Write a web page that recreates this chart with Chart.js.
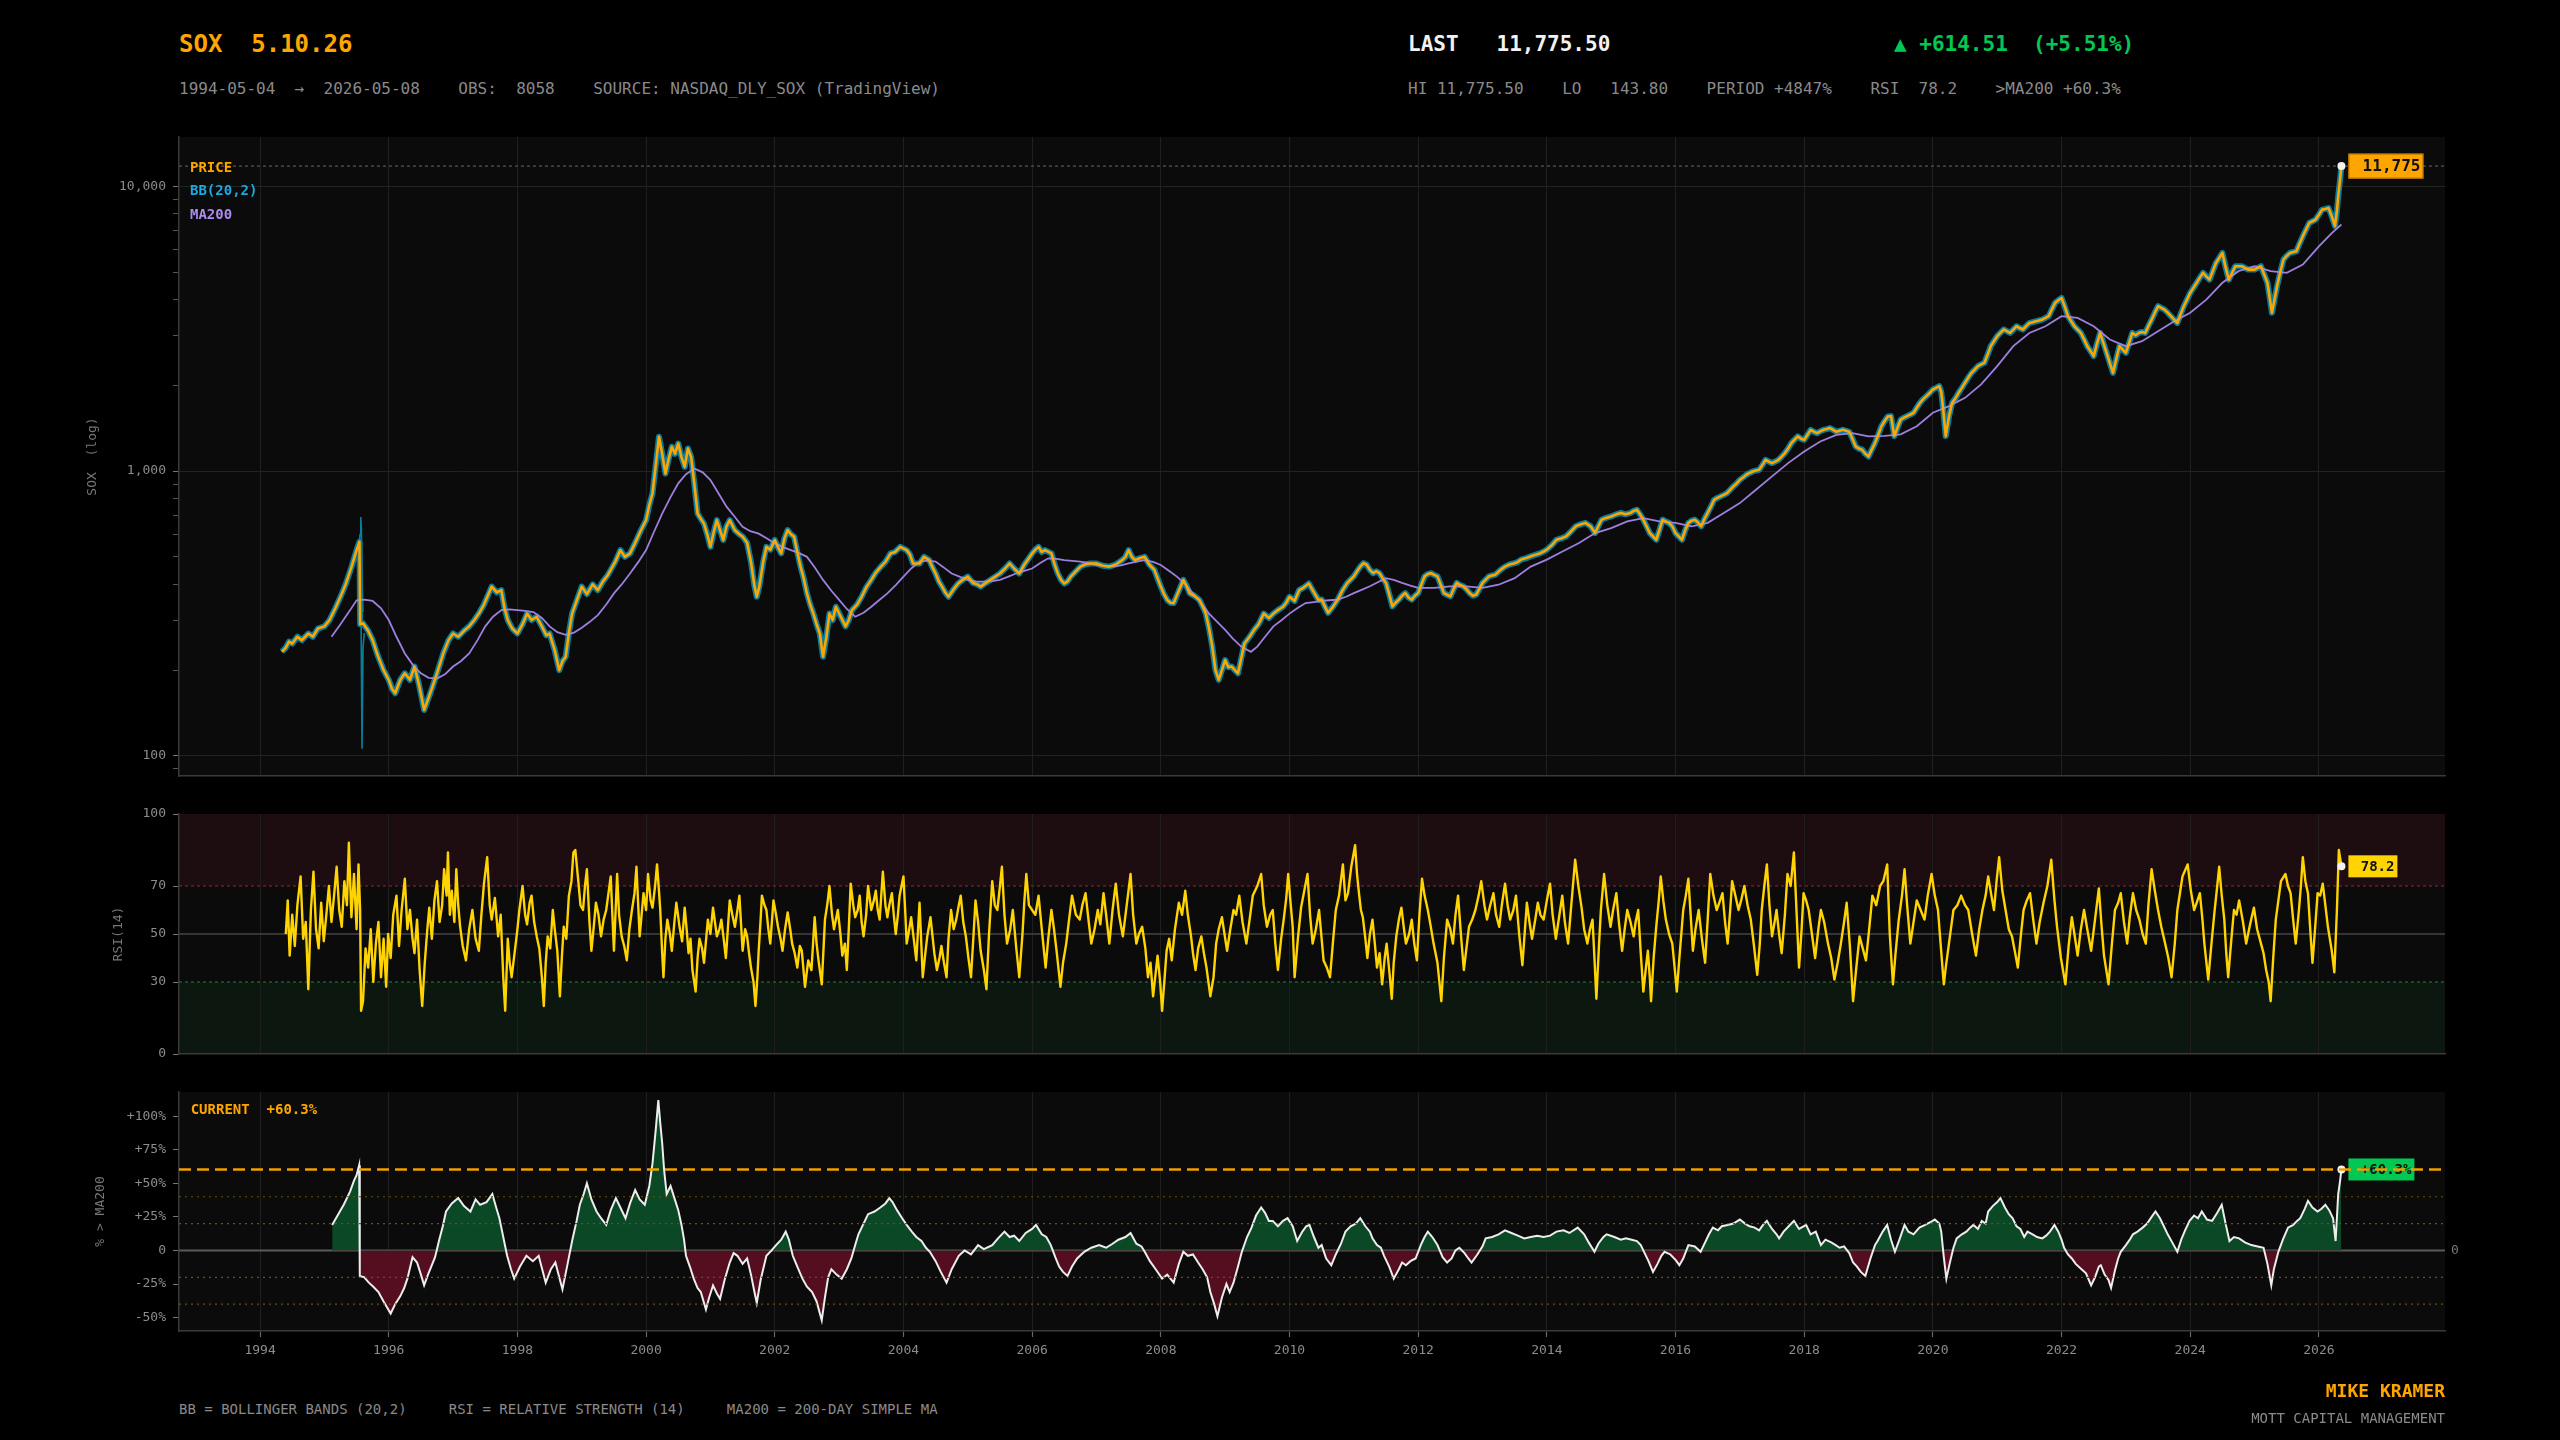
<!DOCTYPE html>
<html><head><meta charset="utf-8">
<script src="https://cdn.jsdelivr.net/npm/chart.js@4.4.1/dist/chart.umd.min.js"></script>
<style>
html,body{margin:0;padding:0;background:#000;}
#wrap{position:relative;width:2560px;height:1440px;background:#000;overflow:hidden;font-family:'DejaVu Sans Mono',monospace;}
.t{position:absolute;white-space:pre;line-height:1;}
.cv{position:absolute;left:0;}
</style></head><body>
<div id="wrap">
  <div class="t" style="left:179px;top:31.7px;font-size:24px;font-weight:bold;color:#FFA500">SOX  5.10.26</div>
  <div class="t" style="left:179px;top:80.5px;font-size:16px;color:#8a8a8a">1994-05-04  →  2026-05-08    OBS:  8058    SOURCE: NASDAQ_DLY_SOX (TradingView)</div>
  <div class="t" style="left:1408px;top:34.2px;font-size:21px;font-weight:bold;color:#f2f2f2">LAST   11,775.50</div>
  <div class="t" style="left:1894px;top:34.2px;font-size:21px;font-weight:bold;color:#00C853">▲ +614.51  (+5.51%)</div>
  <div class="t" style="left:1408px;top:80.5px;font-size:16px;color:#8a8a8a">HI 11,775.50    LO   143.80    PERIOD +4847%    RSI  78.2    >MA200 +60.3%</div>

  <canvas class="cv" id="cMain" width="2560" height="660" style="top:127px"></canvas>
  <canvas class="cv" id="cRsi" width="2560" height="261" style="top:804px"></canvas>
  <canvas class="cv" id="cPct" width="2560" height="300" style="top:1082px"></canvas>

  <div class="t" style="left:190px;top:159.9px;font-size:14px;font-weight:bold;color:#FFA500">PRICE</div>
  <div class="t" style="left:190px;top:182.7px;font-size:14px;font-weight:bold;color:#1CA8E0">BB(20,2)</div>
  <div class="t" style="left:190px;top:206.5px;font-size:14px;font-weight:bold;color:#A98CF0">MA200</div>
  <div class="t" style="left:190.7px;top:1102.2px;font-size:14px;font-weight:bold;color:#FFA500">CURRENT  +60.3%</div>

  <div class="t" style="left:179px;top:1402.2px;font-size:14px;color:#8a8a8a">BB = BOLLINGER BANDS (20,2)     RSI = RELATIVE STRENGTH (14)     MA200 = 200-DAY SIMPLE MA</div>
  <div class="t" style="right:115px;top:1382.3px;font-size:18px;font-weight:bold;color:#FFA500">MIKE KRAMER</div>
  <div class="t" style="right:115px;top:1410.7px;font-size:14px;color:#8a8a8a">MOTT CAPITAL MANAGEMENT</div>
</div>
<script>
// ---------------- DATA ----------------
const yearTicks = [1994,1996,1998,2000,2002,2004,2006,2008,2010,2012,2014,2016,2018,2020,2022,2024,2026];
const priceMajorTicks = [100, 1000, 10000];
const priceMinorTicks = [90,200,300,400,500,600,700,800,900,2000,3000,4000,5000,6000,7000,8000,9000];
const rsiTicks = [0, 30, 50, 70, 100];
const pctTicks = [-50, -25, 0, 25, 50, 75, 100];
const pctGuides = [-40, -20, 20, 40];
const rsiOverbought = 70, rsiOversold = 30, rsiMid = 50;
const lastDate = 2026.35, lastPrice = 11775.5, lastRsi = 78.2, lastPct = 60.3;

// SOX close, [decimal year, value]
const priceSeries = [
[1994.34,232],[1994.40,240],[1994.45,252],[1994.50,248],[1994.58,262],[1994.65,255],[1994.75,269],[1994.82,262],[1994.90,280],[1995.00,285],
[1995.08,300],[1995.17,330],[1995.25,362],[1995.33,400],[1995.42,460],[1995.50,528],[1995.545,565],[1995.555,290],[1995.60,292],[1995.68,275],[1995.75,255],[1995.83,225],[1995.92,200],
[1996.00,185],[1996.05,172],[1996.10,166],[1996.18,185],[1996.25,195],[1996.33,185],[1996.40,206],[1996.47,178],[1996.55,145],[1996.62,160],[1996.68,175],[1996.75,195],[1996.85,230],[1996.93,255],
[1997.00,269],[1997.08,262],[1997.17,275],[1997.25,285],[1997.33,300],[1997.40,316],[1997.48,340],[1997.55,370],[1997.60,393],[1997.68,375],[1997.75,382],[1997.80,330],[1997.85,300],[1997.92,280],
[1998.00,269],[1998.08,290],[1998.15,316],[1998.22,300],[1998.30,308],[1998.38,285],[1998.45,265],[1998.50,269],[1998.58,235],[1998.65,200],[1998.70,215],[1998.75,223],[1998.80,270],[1998.85,316],[1998.92,350],
[1999.00,393],[1999.08,370],[1999.17,400],[1999.25,382],[1999.33,410],[1999.40,430],[1999.45,450],[1999.52,480],[1999.60,528],[1999.67,500],[1999.75,514],[1999.83,560],[1999.92,620],
[2000.00,673],[2000.05,760],[2000.10,836],[2000.15,1050],[2000.20,1320],[2000.25,1150],[2000.30,980],[2000.35,1100],[2000.40,1217],[2000.45,1150],[2000.50,1250],[2000.55,1120],[2000.60,1035],[2000.65,1200],[2000.70,1122],[2000.75,900],[2000.80,710],[2000.85,680],[2000.90,654],[2000.95,600],
[2001.00,542],[2001.05,610],[2001.10,673],[2001.15,620],[2001.20,573],[2001.25,640],[2001.30,673],[2001.38,620],[2001.45,600],[2001.50,589],[2001.57,560],[2001.63,480],[2001.68,400],[2001.72,362],[2001.76,393],[2001.82,480],[2001.87,542],[2001.93,530],
[2002.00,573],[2002.05,540],[2002.10,514],[2002.15,580],[2002.20,621],[2002.25,600],[2002.30,589],[2002.35,520],[2002.40,462],[2002.45,420],[2002.50,372],[2002.55,340],[2002.60,316],[2002.65,290],[2002.70,269],[2002.75,223],[2002.80,260],[2002.85,316],[2002.90,300],[2002.95,334],
[2003.02,310],[2003.10,285],[2003.15,300],[2003.20,325],[2003.28,340],[2003.35,362],[2003.42,390],[2003.50,415],[2003.57,440],[2003.65,462],[2003.72,480],[2003.80,514],[2003.87,520],[2003.95,542],
[2004.05,528],[2004.10,510],[2004.15,474],[2004.25,474],[2004.32,500],[2004.40,487],[2004.45,460],[2004.50,437],[2004.55,410],[2004.60,393],[2004.65,375],[2004.70,362],[2004.78,385],[2004.85,403],[2004.92,415],
[2005.00,426],[2005.08,405],[2005.15,400],[2005.20,393],[2005.28,405],[2005.35,415],[2005.42,425],[2005.50,437],[2005.58,455],[2005.65,474],[2005.72,455],[2005.80,437],[2005.88,470],
[2006.00,514],[2006.05,530],[2006.10,542],[2006.15,520],[2006.20,528],[2006.30,514],[2006.35,470],[2006.40,437],[2006.45,415],[2006.50,403],[2006.55,410],[2006.60,426],[2006.68,445],[2006.75,462],[2006.82,470],[2006.90,474],
[2007.00,474],[2007.10,465],[2007.20,462],[2007.30,470],[2007.40,487],[2007.45,500],[2007.50,528],[2007.55,500],[2007.60,487],[2007.68,495],[2007.75,500],[2007.82,470],[2007.90,450],[2007.95,420],
[2008.00,393],[2008.05,370],[2008.10,353],[2008.15,345],[2008.20,344],[2008.28,380],[2008.35,415],[2008.40,395],[2008.45,372],[2008.52,365],[2008.60,353],[2008.65,335],[2008.70,316],[2008.75,280],[2008.80,242],[2008.85,200],[2008.90,185],[2008.95,200],
[2009.00,217],[2009.05,205],[2009.10,206],[2009.15,200],[2009.20,195],[2009.25,220],[2009.30,248],[2009.38,262],[2009.45,277],[2009.52,290],[2009.60,316],[2009.68,305],[2009.75,316],[2009.82,325],[2009.90,334],[2009.95,345],
[2010.00,362],[2010.08,350],[2010.15,382],[2010.22,390],[2010.30,403],[2010.38,375],[2010.45,353],[2010.50,354],[2010.55,335],[2010.60,318],[2010.68,335],[2010.75,354],[2010.82,380],[2010.90,405],
[2011.00,427],[2011.05,445],[2011.10,462],[2011.15,475],[2011.20,469],[2011.25,450],[2011.30,438],[2011.35,445],[2011.40,438],[2011.45,420],[2011.50,405],[2011.55,370],[2011.60,335],[2011.65,345],[2011.70,354],[2011.75,365],[2011.80,373],[2011.85,360],[2011.90,354],[2011.95,365],
[2012.00,373],[2012.05,400],[2012.10,427],[2012.15,435],[2012.20,438],[2012.25,432],[2012.30,427],[2012.35,400],[2012.40,373],[2012.45,368],[2012.50,363],[2012.55,385],[2012.60,405],[2012.65,398],[2012.70,394],[2012.75,385],[2012.80,373],[2012.85,365],[2012.90,368],[2012.95,385],
[2013.00,405],[2013.10,427],[2013.20,433],[2013.28,450],[2013.35,462],[2013.42,470],[2013.50,475],[2013.55,480],[2013.60,489],[2013.68,495],[2013.75,502],[2013.82,508],[2013.90,515],[2013.95,522],
[2014.00,530],[2014.08,550],[2014.15,574],[2014.22,580],[2014.30,590],[2014.38,615],[2014.45,640],[2014.52,650],[2014.60,658],[2014.68,640],[2014.75,606],[2014.80,640],[2014.85,675],[2014.92,685],
[2015.00,693],[2015.08,705],[2015.15,713],[2015.22,705],[2015.30,713],[2015.35,725],[2015.40,732],[2015.45,705],[2015.50,675],[2015.55,640],[2015.60,606],[2015.65,590],[2015.70,574],[2015.75,620],[2015.80,675],[2015.85,665],[2015.90,658],[2015.95,640],
[2016.00,606],[2016.05,590],[2016.10,574],[2016.15,620],[2016.20,658],[2016.25,670],[2016.30,675],[2016.35,660],[2016.40,640],[2016.45,680],[2016.50,713],[2016.55,750],[2016.60,793],[2016.65,805],[2016.70,815],[2016.75,825],[2016.80,837],[2016.85,860],[2016.90,884],[2016.95,905],
[2017.00,932],[2017.05,950],[2017.10,971],[2017.15,985],[2017.20,997],[2017.25,1005],[2017.30,1011],[2017.35,1050],[2017.40,1096],[2017.45,1080],[2017.50,1067],[2017.55,1080],[2017.60,1096],[2017.65,1125],[2017.70,1157],[2017.75,1200],[2017.80,1254],[2017.85,1290],[2017.90,1324],[2017.95,1300],
[2018.00,1288],[2018.05,1340],[2018.10,1396],[2018.15,1375],[2018.20,1359],[2018.25,1380],[2018.30,1396],[2018.35,1405],[2018.40,1416],[2018.45,1395],[2018.50,1374],[2018.55,1385],[2018.60,1396],[2018.65,1385],[2018.70,1374],[2018.75,1300],[2018.80,1221],[2018.85,1200],[2018.90,1189],[2018.95,1150],
[2019.00,1125],[2019.05,1190],[2019.10,1254],[2019.15,1340],[2019.20,1436],[2019.25,1500],[2019.30,1556],[2019.35,1560],[2019.40,1327],[2019.45,1420],[2019.50,1517],[2019.55,1540],[2019.60,1560],[2019.65,1580],[2019.70,1603],[2019.75,1670],[2019.80,1738],[2019.85,1790],[2019.90,1834],[2019.95,1880],
[2020.00,1935],[2020.05,1960],[2020.10,1988],[2020.13,1900],[2020.16,1650],[2020.20,1327],[2020.25,1550],[2020.30,1738],[2020.35,1800],[2020.40,1884],[2020.45,1960],[2020.50,2043],[2020.55,2130],[2020.60,2213],[2020.65,2270],[2020.70,2336],[2020.75,2370],[2020.80,2399],[2020.85,2560],[2020.90,2746],[2020.95,2860],
[2021.00,2977],[2021.05,3060],[2021.10,3142],[2021.15,3100],[2021.20,3056],[2021.25,3140],[2021.30,3226],[2021.35,3180],[2021.40,3142],[2021.45,3230],[2021.50,3311],[2021.55,3335],[2021.60,3358],[2021.65,3380],[2021.70,3405],[2021.75,3450],[2021.80,3500],[2021.85,3700],[2021.90,3897],[2021.95,3980],
[2022.00,4056],[2022.05,3780],[2022.10,3500],[2022.15,3360],[2022.20,3226],[2022.25,3140],[2022.30,3056],[2022.35,2900],[2022.40,2746],[2022.45,2640],[2022.50,2535],[2022.55,2800],[2022.60,3056],[2022.65,2820],[2022.70,2601],[2022.75,2400],[2022.80,2213],[2022.85,2470],[2022.90,2746],[2022.95,2670],
[2023.00,2601],[2023.05,2820],[2023.10,3056],[2023.15,3000],[2023.20,3056],[2023.25,3080],[2023.30,3056],[2023.35,3230],[2023.40,3405],[2023.45,3600],[2023.50,3793],[2023.55,3740],[2023.60,3690],[2023.65,3600],[2023.70,3500],[2023.75,3400],[2023.80,3311],[2023.85,3550],[2023.90,3793],[2023.95,4000],
[2024.00,4227],[2024.05,4400],[2024.10,4584],[2024.15,4780],[2024.20,4970],[2024.25,4830],[2024.30,4703],[2024.35,5030],[2024.40,5383],[2024.45,5600],[2024.50,5838],[2024.55,5200],[2024.60,4703],[2024.65,4960],[2024.70,5240],[2024.75,5240],[2024.80,5240],[2024.85,5170],[2024.90,5101],[2024.95,5101],
[2025.00,5101],[2025.05,5170],[2025.10,5240],[2025.15,4900],[2025.20,4584],[2025.24,4000],[2025.27,3597],[2025.31,4000],[2025.35,4460],[2025.40,5000],[2025.45,5534],[2025.50,5700],[2025.55,5838],[2025.60,5880],[2025.65,5915],[2025.70,6300],[2025.75,6682],[2025.80,7050],[2025.85,7437],[2025.90,7540],[2025.95,7645],
[2026.00,7950],[2026.05,8282],[2026.10,8330],[2026.15,8390],[2026.20,7850],[2026.25,7244],[2026.28,8200],[2026.30,9226],[2026.33,10600],[2026.35,11775.5]
];

// 200-day simple moving average
const ma200Series = [
[1995.11,262],[1995.25,290],[1995.40,325],[1995.50,352],[1995.62,354],[1995.75,350],[1995.88,330],[1996.00,300],[1996.12,262],[1996.25,229],[1996.38,208],[1996.50,195],[1996.62,188],[1996.75,187],[1996.88,194],
[1997.00,206],[1997.12,215],[1997.25,229],[1997.38,255],[1997.50,285],[1997.62,308],[1997.75,325],[1997.88,327],[1998.00,325],[1998.12,323],[1998.25,320],[1998.38,305],[1998.50,285],[1998.62,272],[1998.75,266],[1998.88,271],
[1999.00,282],[1999.12,295],[1999.25,312],[1999.38,340],[1999.50,372],[1999.62,400],[1999.75,437],[1999.88,480],[2000.00,528],[2000.12,610],[2000.25,709],[2000.38,810],[2000.50,906],[2000.62,975],[2000.75,1022],[2000.88,990],
[2001.00,930],[2001.12,840],[2001.25,750],[2001.38,690],[2001.50,638],[2001.62,615],[2001.75,603],[2001.88,580],[2002.00,557],[2002.12,542],[2002.25,528],[2002.38,515],[2002.50,500],[2002.62,460],[2002.75,415],[2002.88,380],
[2003.00,353],[2003.12,328],[2003.25,308],[2003.38,318],[2003.50,334],[2003.62,352],[2003.75,372],[2003.88,398],[2004.00,426],[2004.12,455],[2004.25,481],[2004.38,485],[2004.50,481],[2004.62,460],[2004.75,437],[2004.88,425],
[2005.00,415],[2005.12,410],[2005.25,409],[2005.38,411],[2005.50,415],[2005.62,425],[2005.75,437],[2005.88,446],[2006.00,455],[2006.12,475],[2006.25,494],[2006.38,492],[2006.50,487],[2006.62,484],[2006.75,481],[2006.88,475],
[2007.00,468],[2007.12,465],[2007.25,462],[2007.38,467],[2007.50,474],[2007.62,481],[2007.75,487],[2007.88,480],[2008.00,468],[2008.12,448],[2008.25,426],[2008.38,400],[2008.50,372],[2008.62,345],[2008.75,316],[2008.88,295],
[2009.00,277],[2009.12,258],[2009.25,242],[2009.40,232],[2009.50,242],[2009.62,262],[2009.75,285],[2009.88,300],[2010.00,316],[2010.12,330],[2010.25,344],[2010.38,347],[2010.50,350],[2010.62,352],[2010.75,354],[2010.88,362],
[2011.00,373],[2011.12,383],[2011.25,394],[2011.38,408],[2011.50,421],[2011.62,415],[2011.75,405],[2011.88,396],[2012.00,389],[2012.25,389],[2012.50,394],[2012.75,394],[2013.00,389],[2013.25,399],[2013.50,421],[2013.75,462],
[2014.00,489],[2014.25,523],[2014.50,559],[2014.75,606],[2015.00,631],[2015.25,666],[2015.50,684],[2015.75,666],[2016.00,658],[2016.25,640],[2016.50,658],[2016.75,713],[2017.00,772],[2017.25,860],[2017.50,958],[2017.75,1067],
[2018.00,1172],[2018.25,1271],[2018.50,1341],[2018.75,1359],[2019.00,1324],[2019.25,1330],[2019.50,1346],[2019.75,1438],[2020.00,1603],[2020.25,1692],[2020.50,1808],[2020.75,2015],[2021.00,2336],[2021.25,2746],[2021.50,3056],[2021.75,3226],
[2022.00,3500],[2022.25,3452],[2022.50,3226],[2022.75,2898],[2023.00,2746],[2023.25,2858],[2023.50,3098],[2023.75,3358],[2024.00,3597],[2024.25,4000],[2024.50,4584],[2024.75,5035],[2025.00,5240],[2025.25,5035],[2025.50,4970],[2025.75,5309],
[2026.00,6150],[2026.20,6853],[2026.35,7346]
];

// Bollinger band excursion around the 1995 data break (elsewhere the bands hug the price)
const bbUpperSpike = [[1995.53,545],[1995.555,600],[1995.565,690],[1995.575,620],[1995.585,420],[1995.60,320]];
const bbLowerSpike = [[1995.545,470],[1995.56,420],[1995.57,300],[1995.585,106],[1995.60,240],[1995.62,270]];

// RSI(14)
const rsiSeries = [
[1994.40,50],[1994.43,64],[1994.46,41],[1994.50,58],[1994.54,45],[1994.58,62],[1994.63,74],[1994.67,48],[1994.71,55],[1994.75,27],[1994.79,60],[1994.83,76],[1994.87,52],[1994.91,44],[1994.95,63],[1994.99,47],
[1995.03,58],[1995.07,70],[1995.11,55],[1995.15,66],[1995.19,78],[1995.23,60],[1995.27,53],[1995.31,72],[1995.35,62],[1995.38,88],[1995.42,57],[1995.46,75],[1995.50,52],[1995.53,79],[1995.555,60],[1995.57,18],[1995.60,22],[1995.64,44],[1995.68,36],[1995.72,52],[1995.76,30],[1995.80,46],[1995.84,55],[1995.88,32],[1995.92,48],[1995.96,28],[1995.99,50],
[1996.03,40],[1996.07,58],[1996.12,66],[1996.16,45],[1996.20,60],[1996.25,73],[1996.29,52],[1996.33,60],[1996.37,48],[1996.40,42],[1996.44,56],[1996.48,35],[1996.52,20],[1996.56,38],[1996.60,52],[1996.63,61],[1996.67,48],[1996.71,64],[1996.75,72],[1996.79,55],[1996.83,62],[1996.86,77],[1996.90,66],[1996.92,84],[1996.95,58],[1996.98,68],
[1997.02,55],[1997.05,77],[1997.08,62],[1997.11,53],[1997.15,45],[1997.20,39],[1997.25,52],[1997.30,60],[1997.35,48],[1997.40,43],[1997.44,58],[1997.48,71],[1997.53,82],[1997.57,62],[1997.60,56],[1997.65,65],[1997.70,49],[1997.74,58],[1997.78,32],[1997.81,18],[1997.85,48],[1997.88,38],[1997.91,32],[1997.96,43],
[1998.00,52],[1998.03,60],[1998.08,70],[1998.12,58],[1998.15,54],[1998.19,63],[1998.22,66],[1998.26,55],[1998.30,49],[1998.34,44],[1998.38,32],[1998.41,20],[1998.44,38],[1998.47,49],[1998.51,44],[1998.55,60],[1998.58,52],[1998.62,43],[1998.66,24],[1998.69,40],[1998.72,53],[1998.76,48],[1998.80,66],[1998.84,72],[1998.87,84],[1998.90,85],[1998.95,71],[1998.98,62],
[1999.02,60],[1999.05,70],[1999.08,77],[1999.12,55],[1999.15,43],[1999.19,54],[1999.22,63],[1999.26,58],[1999.30,49],[1999.34,56],[1999.38,60],[1999.42,68],[1999.45,74],[1999.50,43],[1999.55,75],[1999.58,58],[1999.62,49],[1999.66,45],[1999.70,39],[1999.74,52],[1999.78,60],[1999.82,67],[1999.85,78],[1999.90,49],[1999.93,58],[1999.96,67],
[2000.00,60],[2000.03,75],[2000.07,64],[2000.10,61],[2000.14,70],[2000.17,79],[2000.20,68],[2000.22,60],[2000.25,42],[2000.27,32],[2000.30,48],[2000.33,56],[2000.37,50],[2000.40,43],[2000.44,55],[2000.47,63],[2000.52,53],[2000.56,47],[2000.60,61],[2000.63,52],[2000.66,42],[2000.69,48],[2000.72,35],[2000.77,26],[2000.80,40],[2000.83,48],[2000.87,44],[2000.90,38],[2000.96,56],
[2001.00,50],[2001.04,61],[2001.07,55],[2001.10,49],[2001.14,52],[2001.17,56],[2001.21,47],[2001.24,40],[2001.27,52],[2001.30,64],[2001.34,58],[2001.38,53],[2001.42,60],[2001.45,66],[2001.50,43],[2001.54,52],[2001.57,49],[2001.60,42],[2001.63,36],[2001.67,30],[2001.70,20],[2001.73,32],[2001.75,43],[2001.78,56],[2001.80,66],[2001.84,62],[2001.87,60],[2001.90,52],[2001.93,46],[2001.98,64],
[2002.02,58],[2002.05,53],[2002.09,48],[2002.12,43],[2002.16,52],[2002.20,59],[2002.24,52],[2002.27,46],[2002.31,42],[2002.35,36],[2002.39,45],[2002.42,43],[2002.47,28],[2002.52,39],[2002.57,35],[2002.62,57],[2002.65,46],[2002.68,39],[2002.73,29],[2002.78,56],[2002.82,63],[2002.85,70],[2002.89,58],[2002.92,52],[2002.98,60],
[2003.02,50],[2003.05,41],[2003.09,46],[2003.12,35],[2003.15,52],[2003.18,71],[2003.22,62],[2003.25,57],[2003.29,60],[2003.32,66],[2003.35,55],[2003.38,49],[2003.42,58],[2003.45,70],[2003.50,60],[2003.54,64],[2003.57,68],[2003.60,60],[2003.63,56],[2003.68,76],[2003.72,62],[2003.75,57],[2003.78,62],[2003.82,67],[2003.85,58],[2003.88,50],[2003.91,57],[2003.94,66],[2004.00,74],
[2004.03,58],[2004.05,46],[2004.09,52],[2004.12,57],[2004.16,48],[2004.20,39],[2004.25,63],[2004.30,32],[2004.34,42],[2004.37,49],[2004.42,57],[2004.44,52],[2004.48,42],[2004.52,35],[2004.56,40],[2004.59,45],[2004.63,38],[2004.67,32],[2004.70,48],[2004.74,60],[2004.78,52],[2004.82,56],[2004.86,62],[2004.89,66],[2004.93,55],[2004.97,49],
[2005.01,40],[2005.05,32],[2005.09,50],[2005.12,64],[2005.16,55],[2005.20,43],[2005.25,35],[2005.29,27],[2005.33,50],[2005.38,72],[2005.42,62],[2005.46,60],[2005.50,70],[2005.53,78],[2005.57,58],[2005.61,46],[2005.66,52],[2005.70,60],[2005.75,45],[2005.80,32],[2005.85,50],[2005.88,64],[2005.91,75],[2005.95,62],
[2006.00,60],[2006.05,58],[2006.10,66],[2006.15,52],[2006.21,36],[2006.25,48],[2006.30,60],[2006.34,52],[2006.38,43],[2006.44,28],[2006.48,38],[2006.53,46],[2006.57,55],[2006.62,66],[2006.68,58],[2006.74,56],[2006.78,62],[2006.83,67],[2006.88,55],[2006.92,46],[2006.97,52],
[2007.02,60],[2007.06,54],[2007.11,67],[2007.15,58],[2007.20,46],[2007.25,60],[2007.30,71],[2007.35,58],[2007.41,49],[2007.47,62],[2007.53,75],[2007.57,58],[2007.62,46],[2007.66,50],[2007.71,53],[2007.76,44],[2007.80,32],[2007.84,38],[2007.88,24],[2007.95,41],[2007.99,30],
[2008.02,18],[2008.06,32],[2008.09,43],[2008.13,48],[2008.17,39],[2008.22,52],[2008.28,63],[2008.33,58],[2008.38,68],[2008.42,58],[2008.47,49],[2008.50,42],[2008.54,35],[2008.58,44],[2008.63,49],[2008.67,42],[2008.71,36],[2008.77,24],[2008.82,32],[2008.86,46],[2008.90,52],[2008.95,57],[2008.99,50],
[2009.03,43],[2009.08,52],[2009.13,60],[2009.17,58],[2009.22,66],[2009.27,55],[2009.33,46],[2009.38,56],[2009.43,66],[2009.50,70],[2009.56,75],[2009.60,62],[2009.65,53],[2009.70,58],[2009.74,60],[2009.78,46],[2009.82,35],[2009.87,48],[2009.91,56],[2009.95,65],[2009.98,75],
[2010.02,62],[2010.05,53],[2010.08,32],[2010.13,48],[2010.18,61],[2010.23,68],[2010.28,75],[2010.32,58],[2010.36,46],[2010.41,52],[2010.46,60],[2010.50,48],[2010.53,39],[2010.58,36],[2010.63,32],[2010.68,48],[2010.72,60],[2010.77,66],[2010.83,79],[2010.87,64],[2010.91,67],[2010.96,78],
[2011.02,87],[2011.05,75],[2011.08,67],[2011.11,60],[2011.14,57],[2011.18,48],[2011.21,40],[2011.25,50],[2011.29,56],[2011.33,45],[2011.36,36],[2011.40,42],[2011.44,29],[2011.48,40],[2011.51,46],[2011.55,35],[2011.59,23],[2011.62,38],[2011.66,49],[2011.70,56],[2011.74,61],[2011.78,52],[2011.81,46],[2011.86,50],[2011.90,56],[2011.94,46],[2011.98,39],
[2012.02,58],[2012.06,73],[2012.10,66],[2012.15,60],[2012.19,54],[2012.24,46],[2012.30,38],[2012.33,30],[2012.36,22],[2012.40,40],[2012.45,56],[2012.50,52],[2012.54,46],[2012.58,58],[2012.62,66],[2012.67,48],[2012.71,35],[2012.75,44],[2012.79,53],[2012.84,56],[2012.89,60],[2012.94,66],[2012.98,72],
[2013.03,62],[2013.07,56],[2013.12,62],[2013.17,67],[2013.21,58],[2013.26,53],[2013.30,62],[2013.35,71],[2013.39,62],[2013.43,56],[2013.48,60],[2013.52,66],[2013.57,50],[2013.62,37],[2013.66,52],[2013.69,63],[2013.73,55],[2013.77,48],[2013.82,56],[2013.86,63],[2013.90,58],[2013.95,56],[2014.00,64],
[2014.05,71],[2014.09,58],[2014.14,48],[2014.19,57],[2014.24,66],[2014.28,55],[2014.33,46],[2014.38,62],[2014.44,81],[2014.49,70],[2014.54,61],[2014.58,52],[2014.63,46],[2014.67,52],[2014.71,56],[2014.74,40],[2014.77,23],[2014.81,45],[2014.84,60],[2014.89,75],[2014.94,62],[2014.99,53],
[2015.03,60],[2015.08,67],[2015.12,55],[2015.17,43],[2015.21,52],[2015.25,60],[2015.30,55],[2015.35,49],[2015.38,55],[2015.42,60],[2015.46,42],[2015.50,26],[2015.54,36],[2015.57,43],[2015.60,32],[2015.62,22],[2015.66,40],[2015.70,53],[2015.74,64],[2015.77,74],[2015.81,64],[2015.85,56],[2015.90,50],[2015.95,46],[2015.99,35],
[2016.02,26],[2016.06,40],[2016.12,60],[2016.16,66],[2016.20,73],[2016.24,56],[2016.27,43],[2016.31,52],[2016.36,60],[2016.41,48],[2016.46,38],[2016.50,56],[2016.54,75],[2016.59,66],[2016.64,60],[2016.68,63],[2016.73,67],[2016.77,55],[2016.81,46],[2016.85,60],[2016.88,72],[2016.93,66],[2016.98,60],
[2017.02,64],[2017.07,70],[2017.12,62],[2017.17,56],[2017.22,45],[2017.27,33],[2017.31,46],[2017.34,60],[2017.38,70],[2017.42,79],[2017.46,62],[2017.50,49],[2017.54,55],[2017.57,60],[2017.61,50],[2017.65,42],[2017.70,58],[2017.74,75],[2017.79,70],[2017.84,84],[2017.88,60],[2017.92,36],[2017.96,52],[2017.99,67],
[2018.03,64],[2018.07,60],[2018.12,50],[2018.17,40],[2018.22,52],[2018.26,60],[2018.31,55],[2018.37,46],[2018.42,40],[2018.47,31],[2018.52,38],[2018.57,46],[2018.62,55],[2018.66,63],[2018.71,45],[2018.76,22],[2018.81,36],[2018.86,49],[2018.91,44],[2018.96,39],
[2019.01,52],[2019.06,66],[2019.12,62],[2019.18,70],[2019.23,72],[2019.29,79],[2019.33,50],[2019.38,29],[2019.42,42],[2019.47,56],[2019.52,66],[2019.56,77],[2019.60,62],[2019.65,46],[2019.70,55],[2019.75,64],[2019.81,60],[2019.87,56],[2019.92,66],[2019.98,75],
[2020.03,66],[2020.08,60],[2020.12,46],[2020.17,29],[2020.20,36],[2020.23,42],[2020.28,52],[2020.32,60],[2020.38,62],[2020.44,66],[2020.50,62],[2020.55,60],[2020.61,50],[2020.67,41],[2020.72,52],[2020.77,60],[2020.82,66],[2020.86,74],[2020.91,66],[2020.95,60],[2020.99,72],
[2021.03,82],[2021.08,68],[2021.13,60],[2021.18,52],[2021.23,49],[2021.28,42],[2021.32,36],[2021.37,50],[2021.41,60],[2021.46,64],[2021.51,67],[2021.56,56],[2021.61,46],[2021.66,55],[2021.72,63],[2021.78,70],[2021.84,81],[2021.89,64],[2021.93,53],[2021.99,40],
[2022.06,29],[2022.11,45],[2022.16,57],[2022.20,50],[2022.25,41],[2022.30,52],[2022.35,60],[2022.40,52],[2022.46,43],[2022.52,56],[2022.58,69],[2022.62,54],[2022.66,41],[2022.73,29],[2022.78,45],[2022.83,60],[2022.88,63],[2022.92,67],[2022.97,55],
[2023.02,46],[2023.06,57],[2023.11,67],[2023.16,60],[2023.21,56],[2023.26,50],[2023.31,46],[2023.35,62],[2023.40,77],[2023.45,68],[2023.50,60],[2023.55,53],[2023.61,46],[2023.66,40],[2023.71,32],[2023.76,46],[2023.80,60],[2023.84,67],[2023.88,74],[2023.96,79],
[2024.01,68],[2024.06,60],[2024.10,63],[2024.15,67],[2024.19,56],[2024.22,46],[2024.28,31],[2024.33,46],[2024.38,60],[2024.42,70],[2024.45,78],[2024.49,66],[2024.53,56],[2024.56,42],[2024.59,32],[2024.64,48],[2024.68,60],[2024.72,58],[2024.76,64],[2024.82,55],[2024.87,46],[2024.93,54],[2024.99,61],
[2025.04,52],[2025.10,46],[2025.14,42],[2025.18,35],[2025.22,30],[2025.25,22],[2025.29,40],[2025.33,56],[2025.37,64],[2025.41,72],[2025.48,75],[2025.52,70],[2025.56,67],[2025.60,56],[2025.64,46],[2025.69,60],[2025.72,70],[2025.75,82],[2025.79,72],[2025.83,67],[2025.87,50],[2025.90,38],[2025.94,52],[2025.98,67],
[2026.02,66],[2026.06,71],[2026.10,62],[2026.14,53],[2026.20,43],[2026.24,34],[2026.28,60],[2026.31,85],[2026.35,78.2]
];

// % above / below the 200-day MA
const pctSeries = [
[1995.12,19],[1995.18,24],[1995.24,29],[1995.30,34],[1995.35,39],[1995.40,44],[1995.46,52],[1995.50,56],[1995.54,63.5],[1995.55,-19],[1995.62,-20],[1995.69,-24],[1995.76,-27],[1995.84,-31],[1995.92,-38],
[1996.03,-47],[1996.10,-40],[1996.18,-34],[1996.24,-28],[1996.29,-21],[1996.37,-5],[1996.44,-9],[1996.50,-18],[1996.55,-26],[1996.61,-18],[1996.67,-11],[1996.72,-5],[1996.78,7],[1996.84,18],[1996.89,29],[1996.98,35],
[1997.08,39],[1997.17,33],[1997.27,29],[1997.35,38],[1997.42,34],[1997.52,36],[1997.61,42],[1997.67,32],[1997.72,24],[1997.78,10],[1997.84,-4],[1997.90,-14],[1997.95,-21],
[1998.04,-12],[1998.14,-4],[1998.24,-8],[1998.33,-4],[1998.39,-15],[1998.44,-24],[1998.52,-14],[1998.59,-9],[1998.65,-20],[1998.70,-29],[1998.78,-10],[1998.85,7],[1998.92,22],[1998.97,34],
[1999.03,42],[1999.08,50],[1999.15,38],[1999.23,29],[1999.30,24],[1999.38,19],[1999.45,30],[1999.53,39],[1999.60,32],[1999.68,24],[1999.75,35],[1999.83,45],[1999.90,38],[1999.98,34],
[2000.05,48],[2000.10,65],[2000.15,90],[2000.19,112],[2000.22,95],[2000.25,80],[2000.28,60],[2000.32,42],[2000.38,48],[2000.44,39],[2000.50,30],[2000.55,19],[2000.59,8],[2000.62,-4],[2000.68,-12],[2000.74,-21],[2000.80,-28],[2000.85,-31],[2000.93,-44],[2000.98,-35],
[2001.04,-26],[2001.10,-32],[2001.15,-36],[2001.22,-22],[2001.30,-9],[2001.36,-2],[2001.42,-4],[2001.50,-10],[2001.57,-6],[2001.63,-18],[2001.68,-30],[2001.72,-39],[2001.78,-22],[2001.87,-4],[2001.95,0],
[2002.02,4],[2002.10,8],[2002.17,14],[2002.22,8],[2002.28,-4],[2002.35,-12],[2002.43,-21],[2002.50,-27],[2002.58,-31],[2002.65,-38],[2002.73,-52],[2002.78,-35],[2002.83,-20],[2002.88,-14],[2002.96,-18],
[2003.04,-21],[2003.12,-14],[2003.19,-6],[2003.25,4],[2003.30,12],[2003.38,20],[2003.45,27],[2003.55,29],[2003.64,32],[2003.72,35],[2003.78,39],[2003.83,36],[2003.90,30],[2003.98,24],
[2004.05,19],[2004.13,14],[2004.20,10],[2004.28,7],[2004.35,2],[2004.41,-1],[2004.50,-8],[2004.58,-16],[2004.67,-24],[2004.75,-14],[2004.86,-4],[2004.95,0],
[2005.05,-3],[2005.16,4],[2005.25,1],[2005.38,4],[2005.47,9],[2005.57,14],[2005.65,10],[2005.72,11],[2005.80,7],[2005.90,13],
[2006.00,16],[2006.06,19],[2006.15,12],[2006.22,10],[2006.29,4],[2006.36,-5],[2006.42,-12],[2006.48,-16],[2006.55,-19],[2006.62,-12],[2006.70,-6],[2006.81,-1],[2006.92,2],
[2007.04,4],[2007.15,2],[2007.25,5],[2007.34,8],[2007.45,10],[2007.53,13],[2007.62,5],[2007.70,3],[2007.75,-1],[2007.83,-8],[2007.92,-14],
[2008.02,-21],[2008.10,-18],[2008.20,-24],[2008.28,-10],[2008.35,-1],[2008.42,-4],[2008.50,-3],[2008.58,-9],[2008.65,-14],[2008.72,-20],[2008.77,-31],[2008.83,-40],[2008.88,-49],[2008.95,-35],
[2009.02,-25],[2009.07,-31],[2009.13,-24],[2009.20,-12],[2009.26,-1],[2009.34,10],[2009.41,17],[2009.48,26],[2009.56,32],[2009.62,28],[2009.68,22],[2009.74,22],[2009.82,18],[2009.90,22],[2009.97,24],
[2010.05,18],[2010.12,7],[2010.20,14],[2010.26,18],[2010.31,19],[2010.38,10],[2010.45,2],[2010.50,4],[2010.57,-6],[2010.65,-11],[2010.72,-3],[2010.80,5],[2010.87,14],[2010.95,18],
[2011.03,20],[2011.10,24],[2011.18,18],[2011.25,14],[2011.29,9],[2011.36,4],[2011.42,2],[2011.47,-4],[2011.55,-12],[2011.62,-21],[2011.70,-14],[2011.75,-9],[2011.81,-11],[2011.88,-8],[2011.96,-6],
[2012.05,5],[2012.10,10],[2012.15,14],[2012.22,10],[2012.30,4],[2012.38,-5],[2012.45,-9],[2012.52,-6],[2012.58,0],[2012.64,2],[2012.72,-2],[2012.78,-6],[2012.83,-9],[2012.92,-3],
[2013.00,3],[2013.05,9],[2013.15,10],[2013.25,12],[2013.35,15],[2013.45,13],[2013.55,11],[2013.65,9],[2013.75,10],[2013.85,11],[2013.95,10],
[2014.05,11],[2014.15,14],[2014.26,15],[2014.35,13],[2014.48,17],[2014.58,12],[2014.65,6],[2014.74,-1],[2014.80,5],[2014.88,10],[2014.93,12],
[2015.05,10],[2015.15,8],[2015.23,9],[2015.32,8],[2015.40,7],[2015.46,4],[2015.52,-2],[2015.58,-8],[2015.65,-16],[2015.72,-10],[2015.78,-4],[2015.83,-1],[2015.92,-3],
[2016.00,-7],[2016.06,-11],[2016.12,-6],[2016.20,4],[2016.30,3],[2016.39,-1],[2016.46,6],[2016.52,12],[2016.58,17],[2016.66,15],[2016.72,18],[2016.81,19],[2016.90,20],
[2017.00,23],[2017.08,20],[2017.15,18],[2017.23,17],[2017.30,15],[2017.36,19],[2017.42,22],[2017.50,16],[2017.57,12],[2017.61,9],[2017.68,14],[2017.76,18],[2017.84,22],[2017.92,16],
[2018.03,19],[2018.10,12],[2018.18,14],[2018.26,4],[2018.33,8],[2018.42,6],[2018.49,4],[2018.55,2],[2018.62,3],[2018.70,-2],[2018.76,-9],[2018.82,-12],[2018.88,-16],[2018.95,-19],
[2019.03,-6],[2019.10,4],[2019.14,7],[2019.22,14],[2019.29,19],[2019.35,8],[2019.41,-1],[2019.48,8],[2019.56,19],[2019.62,14],[2019.70,12],[2019.79,17],[2019.88,19],[2019.96,21],
[2020.03,23],[2020.10,20],[2020.13,14],[2020.17,-5],[2020.21,-21],[2020.26,-10],[2020.32,2],[2020.37,9],[2020.45,12],[2020.52,14],[2020.58,17],[2020.63,19],[2020.70,16],[2020.76,22],[2020.82,20],[2020.86,29],[2020.93,33],
[2021.00,36],[2021.05,39],[2021.12,32],[2021.18,27],[2021.24,24],[2021.30,18],[2021.36,16],[2021.42,10],[2021.47,14],[2021.55,12],[2021.62,10],[2021.70,9],[2021.76,11],[2021.82,14],[2021.89,19],[2021.95,14],
[2022.00,8],[2022.04,2],[2022.10,-3],[2022.16,-6],[2022.22,-10],[2022.31,-14],[2022.38,-17],[2022.46,-26],[2022.52,-20],[2022.58,-12],[2022.61,-11],[2022.67,-18],[2022.73,-22],[2022.77,-28],[2022.83,-15],[2022.88,-6],[2022.92,-1],
[2023.00,4],[2023.06,8],[2023.11,12],[2023.18,14],[2023.26,17],[2023.33,20],[2023.40,25],[2023.46,29],[2023.53,24],[2023.59,18],[2023.65,12],[2023.72,6],[2023.80,-1],[2023.86,8],[2023.92,15],[2023.99,22],
[2024.06,26],[2024.12,24],[2024.18,29],[2024.26,23],[2024.34,22],[2024.42,28],[2024.49,34],[2024.55,20],[2024.61,7],[2024.68,10],[2024.76,9],[2024.85,6],[2024.95,4],
[2025.05,3],[2025.14,2],[2025.20,-10],[2025.26,-26],[2025.30,-14],[2025.37,-1],[2025.44,8],[2025.52,17],[2025.60,19],[2025.66,22],[2025.71,24],[2025.78,31],[2025.83,37],[2025.90,32],[2025.98,29],
[2026.04,31],[2026.10,34],[2026.16,30],[2026.22,24],[2026.26,7],[2026.30,42],[2026.33,52],[2026.35,60.3]
];

// ---------------- CHART SETUP ----------------
const X_MIN = 1992.74, X_MAX = 2027.96;
const FONT = "'DejaVu Sans Mono', monospace";
Chart.defaults.font.family = FONT;
Chart.defaults.animation = false;
Chart.defaults.plugins.legend.display = false;
Chart.defaults.plugins.tooltip.enabled = false;
Chart.defaults.elements.point.radius = 0;
Chart.defaults.elements.point.hoverRadius = 0;
Chart.defaults.elements.point.borderWidth = 0;

const pts = s => s.map(([x, y]) => ({ x, y }));
const GRID = '#1f1f1f', SPINE = '#3a3a3a', TICKTXT = '#8c8c8c';
const LAYOUT = { autoPadding: false, padding: { top: 10, right: 115, left: 0, bottom: 0 } };
const noPad = s => { s.paddingTop = 0; s.paddingBottom = 0; s.paddingLeft = 0; s.paddingRight = 0; };

function xAxis(labels) {
  return {
    type: 'linear', min: X_MIN, max: X_MAX,
    afterBuildTicks: s => { s.ticks = yearTicks.map(v => ({ value: v })); },
    afterFit: s => { s.height = labels ? 51 : 11; noPad(s); },
    grid: { color: GRID, lineWidth: 1, drawTicks: labels, tickLength: 6, tickColor: '#666', tickWidth: 1.2 },
    border: { display: true, color: SPINE, width: 1.5 },
    ticks: { display: labels, autoSkip: false, maxRotation: 0, padding: 6, color: TICKTXT, font: { size: 13 }, callback: v => String(v) }
  };
}
function yTitle(text, pad) {
  return { display: true, text, color: '#777', font: { size: 13 }, padding: { top: pad, bottom: 0 } };
}
const yFit = s => { s.width = 179; noPad(s); };

// plot background + zones
const panelBg = {
  id: 'panelBg',
  beforeDraw(chart, args, opts) {
    const { ctx, chartArea: a } = chart, y = chart.scales.y;
    ctx.save();
    ctx.fillStyle = '#0b0b0b';
    ctx.fillRect(a.left, a.top, a.width, a.height);
    (opts.zones || []).forEach(z => {
      const y1 = y.getPixelForValue(z.from), y2 = y.getPixelForValue(z.to);
      ctx.fillStyle = z.color;
      ctx.fillRect(a.left, Math.min(y1, y2), a.width, Math.abs(y2 - y1));
    });
    ctx.restore();
  }
};

function drawLines(chart, list) {
  const { ctx, chartArea: a } = chart, y = chart.scales.y;
  list.forEach(l => {
    const py = y.getPixelForValue(l.value);
    ctx.save();
    ctx.strokeStyle = l.color; ctx.lineWidth = l.width; ctx.setLineDash(l.dash || []);
    ctx.beginPath(); ctx.moveTo(a.left, py); ctx.lineTo(a.right, py); ctx.stroke();
    if (l.label) {
      ctx.setLineDash([]);
      ctx.fillStyle = '#777'; ctx.font = '13px ' + FONT; ctx.textBaseline = 'middle'; ctx.textAlign = 'left';
      ctx.fillText(l.label, a.right + 6, py);
    }
    ctx.restore();
  });
}
const hLines = {
  id: 'hLines',
  beforeDatasetsDraw(chart, args, opts) { drawLines(chart, opts.below || []); },
  afterDatasetsDraw(chart, args, opts) { drawLines(chart, opts.above || []); }
};

// last-value dot + tag
const endMark = {
  id: 'endMark',
  afterDatasetsDraw(chart, args, o) {
    if (!o || o.t === undefined) return;
    const { ctx } = chart;
    const px = chart.scales.x.getPixelForValue(o.t), py = chart.scales.y.getPixelForValue(o.v);
    ctx.save();
    ctx.fillStyle = o.bg;
    const bx = px + 7, by = py - o.h / 2;
    ctx.fillRect(bx, by, o.w, o.h);
    if (o.edge) { ctx.strokeStyle = o.edge; ctx.lineWidth = 1; ctx.strokeRect(bx + 0.5, by + 0.5, o.w - 1, o.h - 1); }
    ctx.fillStyle = '#111';
    ctx.font = 'bold ' + o.size + 'px ' + FONT;
    ctx.textAlign = 'right'; ctx.textBaseline = 'middle';
    ctx.fillText(o.text, bx + o.w - 3, py + 1);
    ctx.beginPath(); ctx.arc(px, py, 4, 0, Math.PI * 2);
    ctx.fillStyle = '#f2f2f2'; ctx.fill();
    ctx.restore();
  }
};

// ---------- MAIN PRICE PANEL ----------
new Chart(document.getElementById('cMain'), {
  type: 'line',
  data: {
    datasets: [
      { label: 'PRICE', data: pts(priceSeries), borderColor: '#FFA500', borderWidth: 2.6, borderJoinStyle: 'round', order: 0 },
      { label: 'MA200', data: pts(ma200Series), borderColor: '#9d7fe0', borderWidth: 1.8, order: 1 },
      { label: 'BB upper', data: pts(bbUpperSpike), borderColor: '#0b7d9c', borderWidth: 1.6, order: 2 },
      { label: 'BB lower', data: pts(bbLowerSpike), borderColor: '#0b7d9c', borderWidth: 1.6, order: 2 },
      { label: 'BB(20,2)', data: pts(priceSeries), borderColor: '#0b7d9c', borderWidth: 6, borderJoinStyle: 'round', order: 3 }
    ]
  },
  options: {
    responsive: false, maintainAspectRatio: false,
    layout: LAYOUT,
    scales: {
      x: xAxis(false),
      y: {
        type: 'logarithmic', min: 85, max: 14900,
        afterBuildTicks: s => { s.ticks = priceMajorTicks.concat(priceMinorTicks).sort((a, b) => a - b).map(v => ({ value: v })); },
        afterFit: yFit,
        border: { display: true, color: SPINE, width: 1.5 },
        grid: {
          color: c => (c.tick && priceMajorTicks.includes(c.tick.value)) ? '#232323' : 'rgba(0,0,0,0)',
          tickColor: c => (c.tick && priceMajorTicks.includes(c.tick.value)) ? '#777' : '#555',
          tickLength: 6, drawTicks: true
        },
        ticks: { autoSkip: false, padding: 7, color: TICKTXT, font: { size: 13 },
          callback: v => priceMajorTicks.includes(v) ? v.toLocaleString('en-US') : '' },
        title: yTitle('SOX  (log)', 85)
      }
    },
    plugins: {
      hLines: { below: [{ value: lastPrice, color: '#4a4a4a', width: 1.5, dash: [3, 3] }] },
      endMark: { t: lastDate, v: lastPrice, text: '11,775', bg: '#FFA500', edge: '#b36f00', w: 75, h: 25, size: 16 }
    }
  },
  plugins: [panelBg, hLines, endMark]
});

// ---------- RSI PANEL ----------
new Chart(document.getElementById('cRsi'), {
  type: 'line',
  data: { datasets: [
    { label: 'RSI(14)', data: pts(rsiSeries), borderColor: '#FFD400', borderWidth: 2.4, borderJoinStyle: 'round' }
  ] },
  options: {
    responsive: false, maintainAspectRatio: false,
    layout: LAYOUT,
    scales: {
      x: xAxis(false),
      y: {
        type: 'linear', min: 0, max: 100,
        afterBuildTicks: s => { s.ticks = rsiTicks.map(v => ({ value: v })); },
        afterFit: yFit,
        border: { display: true, color: SPINE, width: 1.5 },
        grid: { drawOnChartArea: false, drawTicks: true, tickLength: 6, tickColor: '#777' },
        ticks: { autoSkip: false, padding: 7, color: TICKTXT, font: { size: 13 }, callback: v => String(v) },
        title: yTitle('RSI(14)', 111)
      }
    },
    plugins: {
      panelBg: { zones: [ { from: rsiOverbought, to: 100, color: '#1d0c10' }, { from: 0, to: rsiOversold, color: '#0c170f' } ] },
      hLines: { below: [
        { value: rsiOverbought, color: '#8a1b30', width: 1.2, dash: [3, 3] },
        { value: rsiOversold, color: '#17753d', width: 1.2, dash: [3, 3] },
        { value: rsiMid, color: '#444', width: 1.5 }
      ] },
      endMark: { t: lastDate, v: lastRsi, text: '78.2', bg: '#FFD400', w: 49, h: 22, size: 14 }
    }
  },
  plugins: [panelBg, hLines, endMark]
});

// ---------- % ABOVE MA200 PANEL ----------
new Chart(document.getElementById('cPct'), {
  type: 'line',
  data: { datasets: [
    { label: '% > MA200', data: pts(pctSeries), borderColor: '#ededed', borderWidth: 2,
      fill: { target: { value: 0 }, above: '#0a4826', below: '#550e20' } }
  ] },
  options: {
    responsive: false, maintainAspectRatio: false,
    layout: LAYOUT,
    scales: {
      x: xAxis(true),
      y: {
        type: 'linear', min: -60, max: 118,
        afterBuildTicks: s => { s.ticks = pctTicks.map(v => ({ value: v })); },
        afterFit: yFit,
        border: { display: true, color: SPINE, width: 1.5 },
        grid: { drawOnChartArea: false, drawTicks: true, tickLength: 6, tickColor: '#777' },
        ticks: { autoSkip: false, padding: 7, color: TICKTXT, font: { size: 13 },
          callback: v => v === 0 ? '0' : (v > 0 ? '+' : '') + v + '%' },
        title: yTitle('% > MA200', 93)
      }
    },
    plugins: {
      hLines: {
        below: [{ value: 0, color: '#5a5a5a', width: 2, label: '0' }],
        above: pctGuides.map(v => ({ value: v, color: '#6e5200', width: 1.2, dash: [2, 4] }))
          .concat([{ value: lastPct, color: '#F0A000', width: 2.5, dash: [12, 6] }])
      },
      endMark: { t: lastDate, v: lastPct, text: '+60.3%', bg: '#00C853', w: 66, h: 22, size: 14 }
    }
  },
  plugins: [panelBg, endMark, hLines]
});
</script>
</body></html>
